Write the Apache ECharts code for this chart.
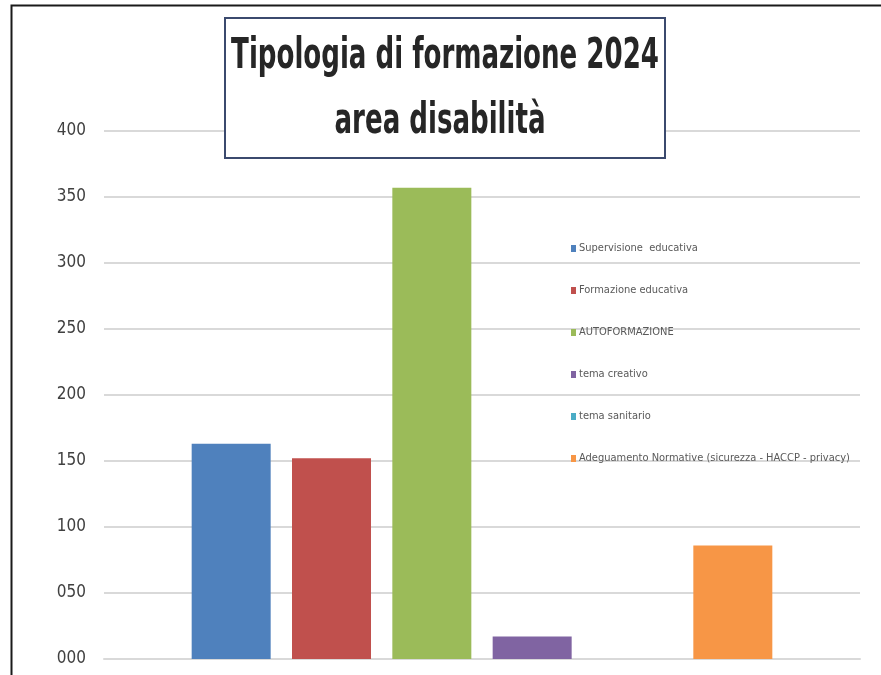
<!DOCTYPE html>
<html>
<head>
<meta charset="utf-8">
<title>Tipologia di formazione 2024</title>
<script src="https://cdn.jsdelivr.net/npm/echarts@6/dist/echarts.min.js"></script>
<style>
  html, body { margin: 0; padding: 0; background: #fff; }
  #chart { width: 881px; height: 675px; }
</style>
</head>
<body>
<div id="chart"></div>
<script>
// dati
const seriesNames = ['Supervisione  educativa', 'Formazione educativa', 'AUTOFORMAZIONE', 'tema creativo', 'tema sanitario', 'Adeguamento Normative (sicurezza - HACCP - privacy)']
const seriesValues = [163, 152, 357, 17, 0, 86]
const seriesColors = ['#4f81bd', '#c0504d', '#9bbb59', '#8064a2', '#4bacc6', '#f79646']
const categories = ['']
const yTicks = [0, 50, 100, 150, 200, 250, 300, 350, 400]
const titleLines = ['Tipologia di formazione 2024', 'area disabilità']

const narrow = '"Liberation Sans Narrow", "DejaVu Sans Condensed", "Roboto", sans-serif'

const chart = echarts.init(document.getElementById('chart'))

chart.setOption({
	backgroundColor: '#fff',
	legend: {
		orient: 'vertical',
		left: 566,
		top: 238,
		itemWidth: 5,
		itemHeight: 7,
		itemGap: 31,
		icon: 'rect',
		textStyle: {
			fontFamily: narrow,
			fontSize: 11,
			color: '#595959',
			padding: [0, 0, 0, -2]
		},
		data: seriesNames
	},
	grid: {
		left: 104,
		right: 21,
		top: 131,
		bottom: 16
	},
	xAxis: {
		type: 'category',
		data: categories,
		axisLine: { lineStyle: { color: '#d9d9d9', width: 2 } },
		axisTick: { show: false },
		axisLabel: { show: false }
	},
	yAxis: {
		type: 'value',
		min: yTicks[0],
		max: yTicks[yTicks.length - 1],
		interval: 50,
		axisLine: { show: false },
		axisTick: { show: false },
		splitLine: { lineStyle: { color: '#d9d9d9', width: 2 } },
		axisLabel: {
			margin: 18,
			fontFamily: narrow,
			fontSize: 17,
			color: '#404040',
			formatter: v => String(v).padStart(3, '0')
		}
	},
	series: seriesNames.map((name, i) => ({
		name: name,
		type: 'bar',
		barWidth: 79,
		barGap: '27%',
		itemStyle: { color: seriesColors[i] },
		data: [seriesValues[i]]
	})),
	graphic: [{
		// cornice esterna (bordo sinistro e superiore)
		type: 'polyline',
		silent: true,
		shape: { points: [[11.5, 675], [11.5, 5.5], [881, 5.5]] },
		style: { stroke: '#1a1a1a', lineWidth: 2, fill: null }
	}, {
		// riquadro del titolo
		type: 'rect',
		silent: true,
		z: 10,
		shape: { x: 225, y: 18, width: 440, height: 140 },
		style: { stroke: '#3b4a6e', lineWidth: 2, fill: '#fff' }
	}, {
		type: 'text',
		z: 11,
		x: 445,
		y: 57,
		scaleX: 0.69,
		style: {
			text: titleLines[0],
			font: 'bold 42px ' + narrow,
			fill: '#262626',
			align: 'center',
			verticalAlign: 'middle'
		}
	}, {
		type: 'text',
		z: 11,
		x: 440,
		y: 122,
		scaleX: 0.69,
		style: {
			text: titleLines[1],
			font: 'bold 42px ' + narrow,
			fill: '#262626',
			align: 'center',
			verticalAlign: 'middle'
		}
	}]
})
</script>
</body>
</html>
